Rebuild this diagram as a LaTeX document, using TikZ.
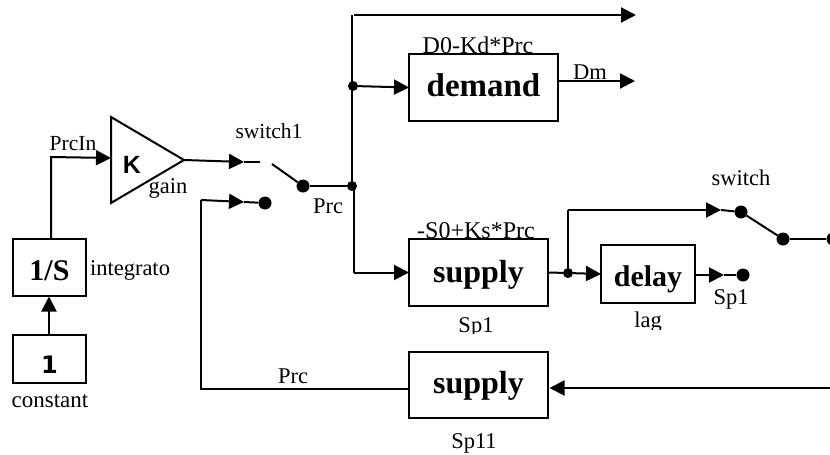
\documentclass[tikz,border=0pt]{standalone}
\usepackage{fontspec}
\setmainfont{Liberation Serif}
\newfontfamily\symfont{DejaVu Sans}
\newfontfamily\kfont{Liberation Sans}
\usetikzlibrary{arrows.meta}
\newcommand{\lowered}[2]{\raisebox{-#1pt}[0pt][0pt]{#2}}
\tikzset{
  wire/.style={line width=2pt,line join=miter},
  flow/.style={wire,-{Triangle[length=15pt,width=15pt]}},
  blockbox/.style={draw,line width=2pt,inner sep=0pt,outer sep=0pt,font=\bfseries\fontsize{32}{32}\selectfont},
  midbox/.style={blockbox,font=\bfseries\fontsize{30}{30}\selectfont},
  symtext/.style={font=\kfont\bfseries\fontsize{25}{25}\selectfont,inner sep=0pt,anchor=base},
  lab/.style={inner sep=0pt,anchor=base,font=\fontsize{22.5}{22.5}\selectfont},
  labsmall/.style={lab,font=\fontsize{21.5}{21.5}\selectfont},
  labwide/.style={lab,font=\fontsize{24}{24}\selectfont},
  bigdot/.style={circle,fill=black,inner sep=0pt,minimum size=13pt},
  smalldot/.style={circle,fill=black,inner sep=0pt,minimum size=10pt},
}
\begin{document}
\begin{tikzpicture}[x=1pt,y=-1pt]
\useasboundingbox (0,0) rectangle (830,455);
% blocks
\node[midbox,minimum width=73pt,minimum height=57pt] (integ) at (49.5,267.5) {\lowered{12.5}{1/S}};
\node[blockbox,minimum width=73pt,minimum height=48pt,font=\symfont\bfseries\fontsize{24}{24}\selectfont] (const) at (49.5,359) {\lowered{14}{1}};
\node[blockbox,minimum width=149pt,minimum height=67pt,font=\bfseries\fontsize{33}{33}\selectfont] (demand) at (483.5,87.5) {\lowered{8.5}{demand}};
\node[blockbox,minimum width=139pt,minimum height=67pt] (supply) at (478.5,272.5) {\lowered{9.5}{supply}};
\node[midbox,minimum width=94pt,minimum height=58pt] (delay) at (648,274) {\lowered{12}{delay}};
\node[blockbox,minimum width=139pt,minimum height=66pt] (supplyb) at (478.5,385) {\lowered{8}{supply}};
% gain triangle
\coordinate (gA) at (111,117);
\coordinate (gB) at (111,203);
\coordinate (gOut) at (184,160);
\coordinate (gIn) at (111,158);
\draw[wire] (gA) -- (gB) -- (gOut) -- cycle;
\node[symtext] (K) at (132,173) {K};
% junctions and contacts
\node[bigdot] (sw1) at (303,186) {};
\node[smalldot] (jPrc) at (352,186) {};
\node[smalldot] (jDem) at (353,86) {};
\node[bigdot] (sw1b) at (265,203) {};
\node[smalldot] (jSup) at (568,273) {};
\node[bigdot] (swA) at (741,212) {};
\node[bigdot] (swB) at (783,239) {};
\node[bigdot] (spl) at (743,275) {};
\node[bigdot] (edge) at (833,239) {};
% free points
\coordinate (a1) at (51,239);
\coordinate (a2) at (51,157);
\coordinate (s1tip) at (244,162);
\coordinate (s1end) at (260,162);
\coordinate (s1arm) at (272,164);
\coordinate (fbA) at (201,200);
\coordinate (fbB) at (201,389);
\coordinate (fbTip) at (244,202);
\coordinate (topL) at (354,15);
\coordinate (topV) at (352,15);
\coordinate (topR) at (636,15);
\coordinate (dmR) at (635,81);
\coordinate (dmL) at (558,81);
\coordinate (supC) at (354,272.5);
\coordinate (upC) at (568,210);
\coordinate (swTip) at (721,210);
\coordinate (dlOut) at (696,275);
\coordinate (dlTip) at (724,275);
\coordinate (inR) at (830,388);
\coordinate (inL) at (549.5,388);
\coordinate (cIn) at (49,335);
\coordinate (iIn) at (49,296.5);
% connectors
\draw[flow] (cIn) -- (iIn);
\draw[flow] (a1) -- (a2) -- (gIn);
\draw[flow] (gOut) -- (s1tip);
\draw[wire] (s1tip) -- (s1end);
\draw[wire] (s1arm) -- (sw1);
\draw[wire] (sw1) -- (jPrc);
\draw[wire] (topV) -- (jPrc);
\draw[flow] (topL) -- (topR);
\draw[flow] (jDem) -- (demand.west);
\draw[flow] (dmL) -- (dmR);
\draw[wire] (supC |- jPrc) -- (supC);
\draw[flow] (supC) -- (supply.west);
\draw[wire] (supply.east) -- (jSup);
\draw[flow] (jSup) -- (delay.west);
\draw[wire] (jSup) -- (upC);
\draw[flow] (upC) -- (swTip);
\draw[wire] (swTip) -- (swA);
\draw[wire] (swA) -- (swB);
\draw[wire] (swB) -- (edge);
\draw[flow] (dlOut) -- (dlTip);
\draw[wire] (dlTip) -- (spl);
\draw[flow] (inR) -- (inL);
\draw[wire] (supplyb.west |- fbB) -- (fbB) -- (fbA);
\draw[flow] (fbA) -- (fbTip);
\draw[wire] (fbTip) -- (sw1b);
% labels
\node[labsmall] (lPrcIn) at (73,150) {PrcIn};
\node[lab] (lGain) at (168,193) {gain};
\node[labsmall] (lSw1) at (269,138) {switch1};
\node[lab] (lPrc) at (328,213) {Prc};
\node[lab] (lInt) at (130,275) {integrato};
\node[lab,font=\fontsize{23}{23}\selectfont] (lConst) at (50,407) {constant};
\node[lab] (lPrcB) at (293,383) {Prc};
\node[labwide] (lDem) at (478,53) {D0-Kd*Prc};
\node[lab] (lDm) at (590,79) {Dm};
\node[labwide] (lSup) at (476,238) {-S0+Ks*Prc};
\begin{scope}
  \clip (440,300) rectangle (520,333);
  \node[lab] (lSp) at (476,332) {Sp1};
\end{scope}
\begin{scope}
  \clip (620,300) rectangle (680,329);
  \node[lab] (lLag) at (648,327) {lag};
\end{scope}
\node[lab] (lSpl) at (731,304) {Sp1};
\node[lab] (lSw) at (741,185) {switch};
\node[lab] (lSpb) at (474,448) {Sp11};
\end{tikzpicture}
\end{document}
